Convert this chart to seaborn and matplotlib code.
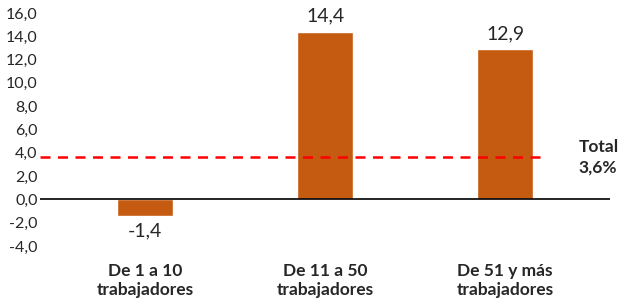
import matplotlib
matplotlib.use("Agg")
import matplotlib.pyplot as plt
import seaborn as sns
import pandas as pd

# Data
categorias = ["De 1 a 10\ntrabajadores", "De 11 a 50\ntrabajadores", "De 51 y más\ntrabajadores"]
valores = [-1.4, 14.4, 12.9]
total = 3.6
yticks = [-4, -2, 0, 2, 4, 6, 8, 10, 12, 14, 16]

sns.set_style("white")
plt.rcParams["font.family"] = ["Lato", "DejaVu Sans"]

df = pd.DataFrame({"cat": categorias, "val": valores})

fig = plt.figure(figsize=(6.2, 3.08), dpi=100)
ax = fig.add_axes([0.065, 0.201, 0.919, 0.757])

sns.barplot(data=df, x="cat", y="val", color="#C55A11", width=0.31,
            saturation=1, ax=ax)

ax.set_xlim(-0.583, 2.583)
ax.set_ylim(-4, 16)
ax.set_yticks(yticks)
ax.set_yticklabels([f"{t:.1f}".replace(".", ",") for t in yticks], fontsize=11.5)
ax.tick_params(axis="both", length=0)
ax.tick_params(axis="y", pad=2)
ax.tick_params(axis="x", pad=12)
for lbl in ax.get_xticklabels():
    lbl.set_fontweight("bold")
    lbl.set_fontsize(12.5)
    lbl.set_linespacing(1.25)
ax.set_xlabel("")
ax.set_ylabel("")
for s in ax.spines.values():
    s.set_visible(False)

# zero line
ax.axhline(0, color="black", lw=1.2, zorder=1)

# total line
ax.axhline(total, xmin=0, xmax=0.89, color="#FF0000", ls=(0, (4, 3)), lw=1.8, zorder=3)
ax.text(2.41, total, "Total\n" + f"{total:.1f}".replace(".", ",") + "%",
        ha="left", va="center", fontsize=12.5, fontweight="bold", linespacing=1.35)

# value labels
for i, v in enumerate(valores):
    txt = f"{v:.1f}".replace(".", ",")
    if v >= 0:
        ax.text(i, v + 0.6, txt, ha="center", va="bottom", fontsize=14)
    else:
        ax.text(i, v - 0.6, txt, ha="center", va="top", fontsize=14)

fig.savefig("out.png", dpi=100)
